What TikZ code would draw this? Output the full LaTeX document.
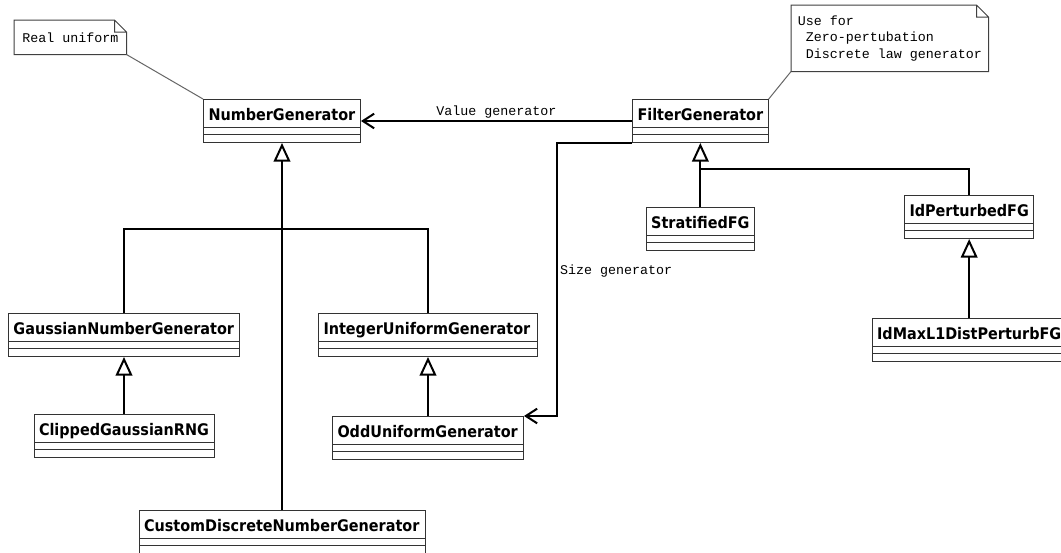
\documentclass[tikz,border=0pt]{standalone}
\usepackage{fontspec}
\newfontfamily\classfont{DejaVu Sans Condensed}
\setmonofont{Liberation Mono}
\usetikzlibrary{shapes.multipart, positioning, arrows.meta}
\newcommand{\clsname}[1]{\rule[-4.5pt]{0pt}{20pt}#1\nodepart{two}\hspace*{1pt}\rule{0pt}{5pt}\nodepart{three}\hspace*{1pt}\rule{0pt}{5pt}}
\newcommand{\notefold}[1]{\draw[notebox] (#1.south west) -- (#1.north west) -- ([xshift=-9pt]#1.north east) -- ([yshift=-9pt]#1.north east) -- (#1.south east) -- cycle ([xshift=-9pt]#1.north east) |- ([yshift=-9pt]#1.north east);}
\tikzset{umlclass/.style = {draw=black!80, line width=0.75pt, rectangle split, rectangle split parts=3, rectangle split part align=left, inner ysep=0pt, inner xsep=3.75pt, font=\classfont\bfseries\fontsize{12}{14}\selectfont}}
\tikzset{umlnote/.style = {font=\ttfamily\fontsize{10}{12.25}\selectfont, align=left, inner sep=0pt, anchor=north west}}
\tikzset{notebox/.style = {draw=black!75, line width=0.75pt}}
\tikzset{notelink/.style = {draw=black!60, line width=0.75pt}}
\tikzset{lbl/.style = {font=\ttfamily\fontsize{10}{12}\selectfont, inner sep=1.5pt}}
\tikzset{link/.style = {line width=1.5pt}}
\tikzset{inherit/.style = {link, -{Triangle[open, length=14pt, width=12.5pt]}}}
\tikzset{assoc/.style = {link, -{Straight Barb[length=8.5pt, width=11pt]}}}

\begin{document}
\begin{tikzpicture}[x=0.75pt, y=-0.75pt]
\path[use as bounding box, fill=white] (0,0) rectangle (1061,553);

% classes
\node[umlclass, minimum width=117.75pt, anchor=north west] (NumberGenerator) at (203,99) {\clsname{NumberGenerator}};
\node[umlclass, minimum width=100.5pt, anchor=north west] (FilterGenerator) at (632,99) {\clsname{FilterGenerator}};
\node[umlclass, minimum width=173.25pt, anchor=north west] (GaussianNumberGenerator) at (8,313) {\clsname{GaussianNumberGenerator}};
\node[umlclass, minimum width=164.25pt, anchor=north west] (IntegerUniformGenerator) at (318,313) {\clsname{IntegerUniformGenerator}};
\node[umlclass, minimum width=135pt, below=42.75pt of GaussianNumberGenerator] (ClippedGaussianRNG) {\clsname{ClippedGaussianRNG}};
\node[umlclass, minimum width=143.25pt, below=44.25pt of IntegerUniformGenerator] (OddUniformGenerator) {\clsname{OddUniformGenerator}};
\node[umlclass, minimum width=214.5pt, below=275.25pt of NumberGenerator] (CustomDiscreteNumberGenerator) {\clsname{CustomDiscreteNumberGenerator}};
\node[umlclass, minimum width=80.25pt, below=48pt of FilterGenerator] (StratifiedFG) {\clsname{StratifiedFG}};
\node[umlclass, minimum width=96.75pt, anchor=north west] (IdPerturbedFG) at (904,195) {\clsname{IdPerturbedFG}};
\node[umlclass, minimum width=145.5pt, below=59.25pt of IdPerturbedFG] (IdMaxL1DistPerturbFG) {\clsname{IdMaxL1DistPerturbFG}};

% notes
\node[umlnote, minimum width=84pt, minimum height=25.5pt] (realnote) at (14,20) {Real uniform};
\node[umlnote, minimum width=147.75pt, minimum height=49.5pt] (usenote) at (791,5) {Use for\\~Zero-pertubation\\~Discrete law generator};
\notefold{realnote}
\notefold{usenote}
\draw[notelink] (realnote.south east) -- (NumberGenerator.north west);
\draw[notelink] (usenote.south west) -- (FilterGenerator.north east);

% associations
\draw[assoc] (FilterGenerator.west) -- node[lbl, above] {Value generator} (NumberGenerator.east);
\coordinate (sizebend) at (FilterGenerator.south west -| 557,0);
\draw[assoc] (FilterGenerator.south west) -- (sizebend) |- node[lbl, pos=0.235, right] {Size generator} (OddUniformGenerator.north east);

% inheritance
\coordinate (numjoin) at (NumberGenerator.south |- 0,229);
\draw[inherit] (CustomDiscreteNumberGenerator.north) -- (NumberGenerator.south);
\draw[link] (GaussianNumberGenerator.north) |- (numjoin) -| (IntegerUniformGenerator.north);
\draw[inherit] (ClippedGaussianRNG.north) -- (GaussianNumberGenerator.south);
\draw[inherit] (OddUniformGenerator.north) -- (IntegerUniformGenerator.south);
\coordinate (filterjoin) at (FilterGenerator.south |- 0,169);
\draw[inherit] (StratifiedFG.north) -- (FilterGenerator.south);
\draw[link] (filterjoin) -| (IdPerturbedFG.north);
\draw[inherit] (IdMaxL1DistPerturbFG.north) -- (IdPerturbedFG.south);
\end{tikzpicture}
\end{document}
